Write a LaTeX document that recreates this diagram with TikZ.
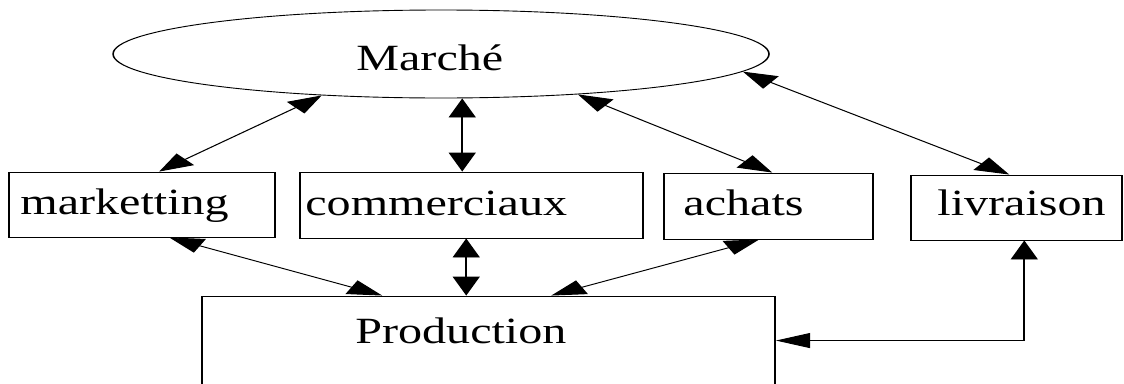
\documentclass[tikz,border=0pt]{standalone}
\usepackage{fontspec}
\setmainfont{Liberation Serif}
\usetikzlibrary{arrows.meta,fit,calc,shapes.geometric}
% labels are set narrower inside the horizontally stretched canvas
\newcommand{\narrowlbl}[1]{\scalebox{0.722}[1]{#1}}

\begin{document}
\begin{tikzpicture}
\useasboundingbox (0,0) rectangle (1124pt,-383pt);
\clip (0,0) rectangle (1124pt,-383pt);
\begin{scope}[transform canvas={xscale=1.8}, x=0.5556pt, y=-1pt,
  box/.style={draw, line width=0.9pt, inner sep=0pt, rectangle},
  lbl/.style={inner sep=0pt, anchor=base west, font=\fontsize{37}{44}\selectfont},
  link/.style={line width=0.9pt,
    {Triangle[length=19pt,width=15pt]}-{Triangle[length=19pt,width=15pt]}}]

  % market
  \node[draw, ellipse, line width=0.9pt, inner sep=0pt,
        minimum width=364.4pt, minimum height=88pt] (marche) at (441,54) {};
  \node[lbl] (marcheT) at (356,70) {\narrowlbl{Marché}};

  % departments
  \node[box, fit={(9,172) (275,237)}] (mk) {};
  \node[lbl] (mkT) at (20,214) {\narrowlbl{marketting}};
  \node[box, fit={(300,172) (643,238)}] (co) {};
  \node[lbl] (coT) at (305,215) {\narrowlbl{commerciaux}};
  \node[box, fit={(664,173) (873,239)}] (ac) {};
  \node[lbl] (acT) at (683,215) {\narrowlbl{achats}};
  \node[box, fit={(911,175) (1122,240)}] (lv) {};
  \node[lbl] (lvT) at (937,215) {\narrowlbl{livraison}};

  % production
  \node[box, fit={(202,296) (775,440)}] (prod) {};
  \node[lbl] (prodT) at (355,343) {\narrowlbl{Production}};

  % links with the market
  \draw[link] ($(mk.north west)+(151,0)$) -- (marche.212);
  \coordinate (coTop) at ($(co.north west)+(163,0)$);
  \draw[link] (coTop) -- (coTop |- marche.south);
  \draw[link] ($(ac.north west)+(109,0)$) -- (marche.332.3);
  \draw[link] ($(lv.north west)+(99,0)$) -- (marche.354.6);

  % links with production
  \draw[link] ($(mk.south west)+(161,0)$) -- ($(prod.north west)+(181,0)$);
  \coordinate (coBot) at ($(co.south west)+(167,0)$);
  \draw[link] (coBot) -- (coBot |- prod.north);
  \draw[link] ($(ac.south west)+(96,0)$) -- ($(prod.north west)+(350,0)$);
  \draw[link] ($(prod.north east)+(0,45)$) -| ($(lv.south west)+(114,0)$);
\end{scope}
\end{tikzpicture}
\end{document}
